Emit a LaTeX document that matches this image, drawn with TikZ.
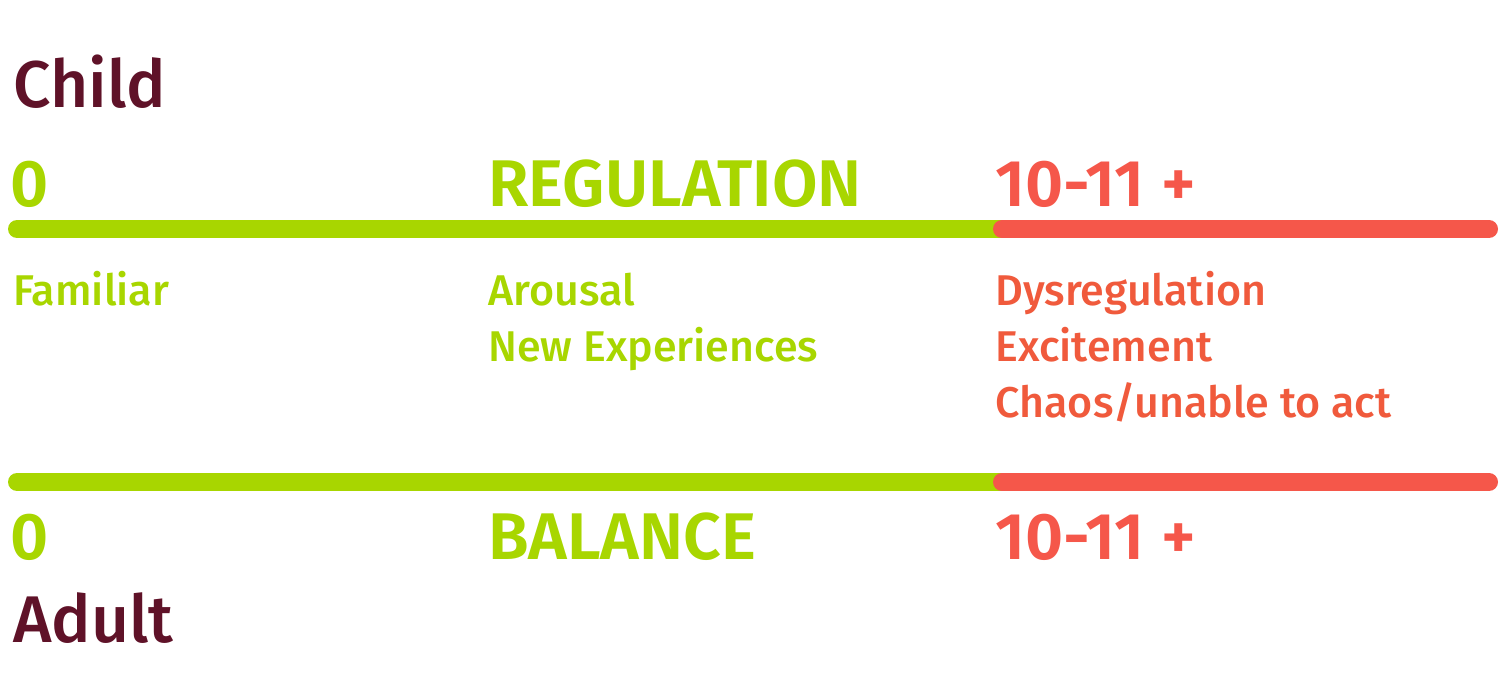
\documentclass[tikz,border=0pt]{standalone}
\usepackage{fontspec}
\setmainfont{Fira Sans}[BoldFont={Fira Sans SemiBold}]
\newfontfamily\medfont{Fira Sans Medium}
\usetikzlibrary{positioning}
\definecolor{cgreen}{HTML}{A8D600}
\definecolor{cred}{HTML}{F5574A}
\definecolor{corange}{HTML}{F05A3C}
\definecolor{cmaroon}{HTML}{5F1228}
\tikzset{
  every picture/.style={font=\rmfamily},
  who/.style={anchor=base west, inner sep=0pt, text=cmaroon, font=\medfont\fontsize{33}{36}\selectfont},
  head/.style={anchor=base west, inner sep=0pt, text=#1, font=\fontsize{33}{36}\selectfont\bfseries},
  head/.default=cgreen,
  note/.style={anchor=base west, inner sep=0pt, text=#1, align=left, font=\medfont\fontsize{21.5}{28}\selectfont},
  note/.default=cgreen,
  bar/.style={draw=#1, line width=9pt, line cap=round},
}
\begin{document}
\begin{tikzpicture}[x=0.5pt, y=-0.5pt]
  \useasboundingbox (0,0) rectangle (1500,694);
  % child scale
  \node[who] (child) at (13,108) {Child};
  \node[head] (czero) at (10,207) {0};
  \node[head] (creg) at (488,207) {REGULATION};
  \node[head=cred] (cten) at (995,207) {10-11 +};
  \coordinate (cl) at (17,229);
  \coordinate (cm) at (1002,229);
  \coordinate (cr) at (1489,229);
  \draw[bar=cgreen] (cl) -- (cm);
  \draw[bar=cred] (cm) -- (cr);
  % base west of a multi-line node sits on its last line
  \node[note] (cfam) at (13,306) {Familiar};
  \node[note] (caro) at (488,362) {Arousal\\New Experiences};
  \node[note=corange] (cdys) at (995,418) {Dysregulation\\Excitement\\Chaos/unable to act};
  % adult scale
  \coordinate (al) at (17,482);
  \coordinate (am) at (1002,482);
  \coordinate (ar) at (1489,482);
  \draw[bar=cgreen] (al) -- (am);
  \draw[bar=cred] (am) -- (ar);
  \node[head] (azero) at (10,560) {0};
  \node[head] (abal) at (488,560) {BALANCE};
  \node[head=cred] (aten) at (995,560) {10-11 +};
  \node[who] (adult) at (13,643) {Adult};
\end{tikzpicture}
\end{document}
